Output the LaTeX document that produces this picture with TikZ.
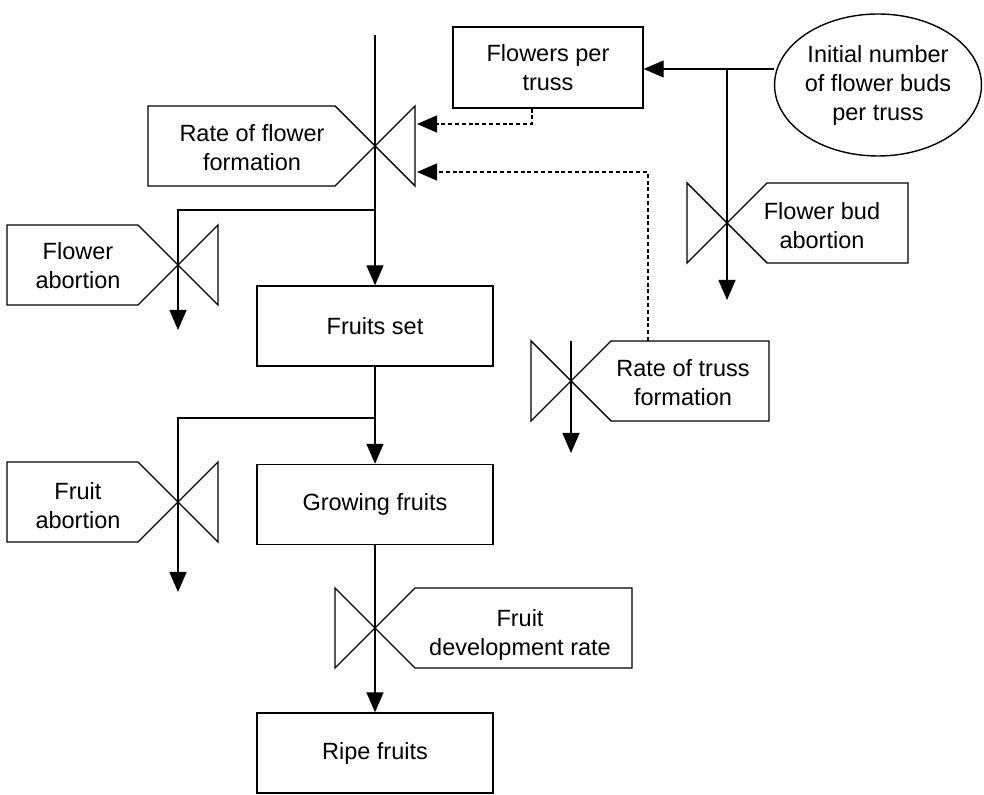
\documentclass[tikz,border=0pt]{standalone}
\usepackage{fontspec}
\setmainfont{Liberation Sans}
\usetikzlibrary{arrows.meta,shapes.geometric}

\tikzset{
  txt/.style={align=center,font=\fontsize{11.75}{14.5}\selectfont,inner sep=0pt},
  box/.style={txt,draw,minimum width=118pt,minimum height=40pt},
  flow/.style={-{Triangle[length=10pt,width=8.5pt]}},
  info/.style={flow,dash pattern=on 2pt off 1.4pt},
}

\begin{document}
\begin{tikzpicture}[x=0.5pt,y=-0.5pt,line width=0.7pt]
    \useasboundingbox (0,0) rectangle (984,795);

    % stocks
    \node[box] (set) at (375,326) {Fruits set};
    \node[box] (grow) at (375,504.5) {Growing fruits};
    \node[box] (ripe) at (375,753) {Ripe fruits};
    \node[box,minimum width=95pt,minimum height=40.5pt] (fpt) at (548,67.5) {Flowers per\\truss};
    \node[txt,draw,ellipse,minimum width=101.5pt,minimum height=71pt] (init) at (878,85)
        {Initial number\\of flower buds\\per truss};

    % valves, label on the left
    \foreach \x/\y/\l in {375/146/148,178/265/7,178/502/7}{
        \draw (\l,\y-40) -- (\x-40,\y-40) -- (\x,\y) -- (\x-40,\y+40) -- (\l,\y+40) -- cycle;
        \draw (\x,\y) -- (\x+40,\y-40) -- (\x+40,\y+40) -- cycle;
    }
    % valves, label on the right
    \foreach \x/\y/\r in {727/223/908,571/381/769,375/628/632}{
        \draw (\r,\y-40) -- (\x+40,\y-40) -- (\x,\y) -- (\x+40,\y+40) -- (\r,\y+40) -- cycle;
        \draw (\x,\y) -- (\x-40,\y-40) -- (\x-40,\y+40) -- cycle;
    }

    \node[txt] (lform) at (252,148) {Rate of flower\\formation};
    \node[txt] (lfab) at (78,266) {Flower\\abortion};
    \node[txt] (lfrab) at (78,506) {Fruit\\abortion};
    \node[txt] (lbud) at (822,226) {Flower bud\\abortion};
    \node[txt] (ltruss) at (683,383) {Rate of truss\\formation};
    \node[txt] (ldev) at (520,635) {Fruit\\development rate};

    \coordinate (src) at (375,35);
    \coordinate (j1) at (375,210);
    \coordinate (sink1) at (178,330);
    \coordinate (j2) at (375,418);
    \coordinate (sink2) at (178,592);
    \coordinate (j3) at (727,69);
    \coordinate (sink3) at (727,300);
    \coordinate (ttop) at (571,341);
    \coordinate (sink4) at (571,453);
    \coordinate (d1) at (532,124);
    \coordinate (fin1) at (417,124);
    \coordinate (ltop) at (648,341);
    \coordinate (d2) at (648,172);
    \coordinate (fin2) at (417,172);

    % flows
    \draw[flow] (src) -- (set.north);
    \draw[flow] (j1) -| (sink1);
    \draw[flow] (set.south) -- (grow.north);
    \draw[flow] (j2) -| (sink2);
    \draw[flow] (grow.south) -- (ripe.north);
    \draw[flow] (init.west |- j3) -- (fpt.east |- j3);
    \draw[flow] (j3) -- (sink3);
    \draw[flow] (ttop) -- (sink4);

    % information links
    \draw[info] (fpt.south -| d1) -- (d1) -- (fin1);
    \draw[info] (ltop) -- (d2) -- (fin2);

\end{tikzpicture}
\end{document}
